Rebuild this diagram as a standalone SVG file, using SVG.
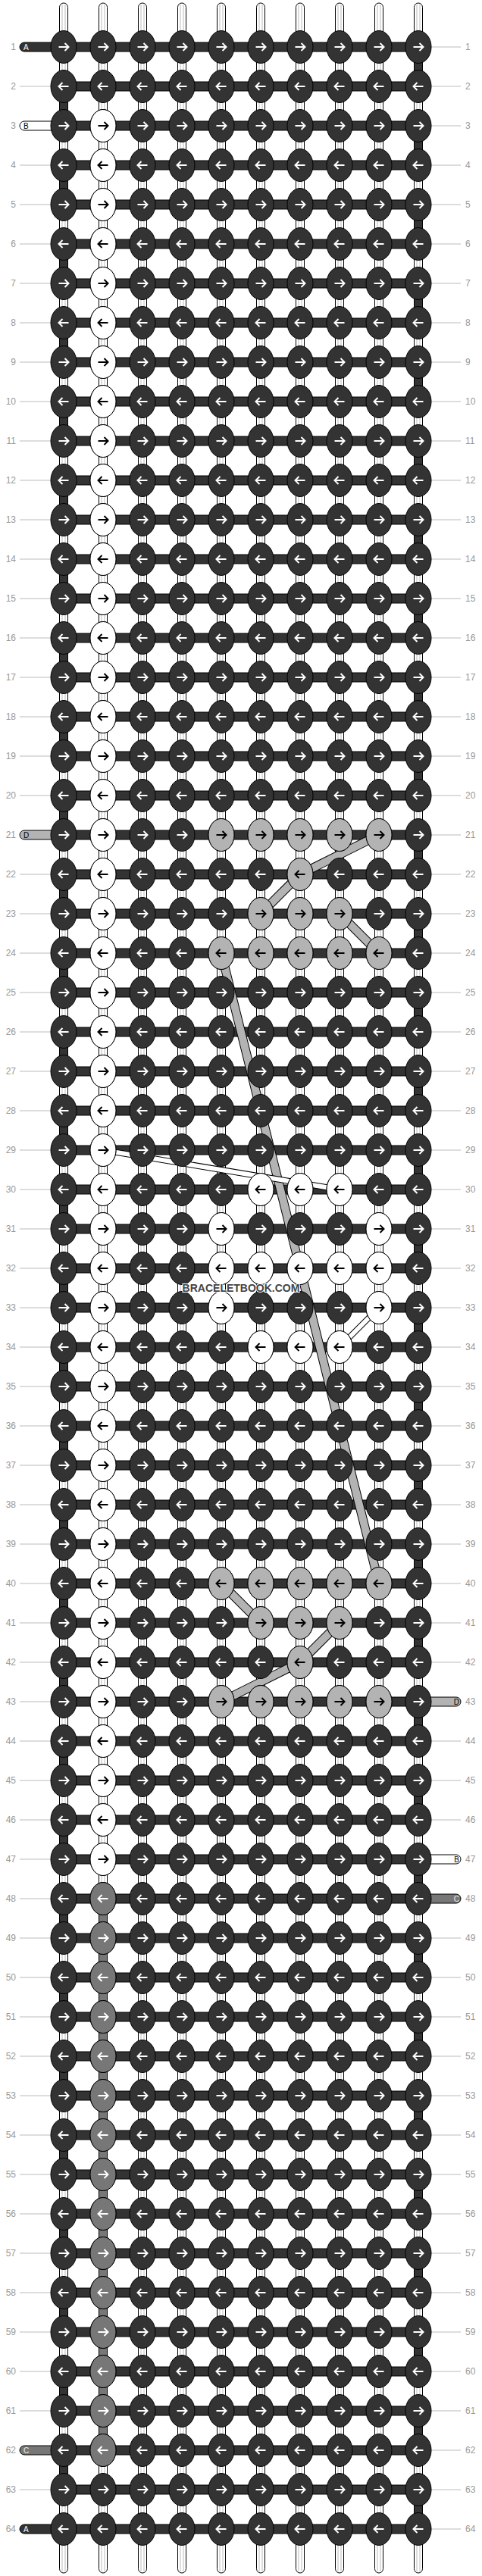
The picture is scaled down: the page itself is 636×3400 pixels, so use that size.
<svg xmlns="http://www.w3.org/2000/svg" width="636" height="3400" viewBox="0 0 636 3400">
<style>
.kd{fill:#333;stroke:#000}
.kw{fill:#fff;stroke:#000}
.kl{fill:#b3b3b3;stroke:#000}
.kg{fill:#777;stroke:#000}
.aw{fill:none;stroke:#fff;stroke-width:2}
.ab{fill:none;stroke:#000;stroke-width:2}
.td{fill:#333;stroke:#000}
.tw{fill:#fff;stroke:#000}
.tlg{fill:#b3b3b3;stroke:#000}
.tg{fill:#777;stroke:#000}
.tl{fill:none;stroke:#bbb}
.num{font-family:"Liberation Sans",Arial,sans-serif;font-size:12px;fill:#999}
.lab{font-family:"Liberation Sans",Arial,sans-serif;font-size:10px}
.cbk{fill:none;stroke:#000;stroke-width:12}
.cbl{fill:none;stroke:#b3b3b3;stroke-width:10}
.cwk{fill:none;stroke:#000;stroke-width:8}
.cww{fill:none;stroke:#fff;stroke-width:6}
</style>
<defs>
<ellipse id="e" rx="17" ry="21.5"/>
<path id="pR" d="M-6.5 0H6M1.5-5L6.5 0L1.5 5"/>
<path id="pL" d="M6.5 0H-6M-1.5-5L-6.5 0L-1.5 5"/>
<g id="e10"><use href="#e" x="84"/><use href="#e" x="136"/><use href="#e" x="188"/><use href="#e" x="240"/><use href="#e" x="292"/><use href="#e" x="344"/><use href="#e" x="396"/><use href="#e" x="448"/><use href="#e" x="500"/><use href="#e" x="552"/></g>
<g id="aR10"><use href="#pR" x="84"/><use href="#pR" x="136"/><use href="#pR" x="188"/><use href="#pR" x="240"/><use href="#pR" x="292"/><use href="#pR" x="344"/><use href="#pR" x="396"/><use href="#pR" x="448"/><use href="#pR" x="500"/><use href="#pR" x="552"/></g>
<g id="aL10"><use href="#pL" x="84"/><use href="#pL" x="136"/><use href="#pL" x="188"/><use href="#pL" x="240"/><use href="#pL" x="292"/><use href="#pL" x="344"/><use href="#pL" x="396"/><use href="#pL" x="448"/><use href="#pL" x="500"/><use href="#pL" x="552"/></g>
<g id="rO"><use href="#e10" class="kd"/><use href="#aR10" class="aw"/></g>
<g id="rE"><use href="#e10" class="kd"/><use href="#aL10" class="aw"/></g>
<g id="r2"><use href="#rO"/><use href="#rE" y="52"/></g>
<g id="wR"><use href="#e" class="kw"/><use href="#pR" class="ab"/></g>
<g id="wL"><use href="#e" class="kw"/><use href="#pL" class="ab"/></g>
<g id="lR"><use href="#e" class="kl"/><use href="#pR" class="ab"/></g>
<g id="lL"><use href="#e" class="kl"/><use href="#pL" class="ab"/></g>
<g id="gR"><use href="#e" class="kg"/><use href="#pR" class="aw"/></g>
<g id="gL"><use href="#e" class="kg"/><use href="#pL" class="aw"/></g>
<g id="w2"><use href="#wR"/><use href="#wL" y="52"/></g>
<g id="g2"><use href="#gL"/><use href="#gR" y="52"/></g>
<g id="vw"><rect x="-5.5" y="0" width="11" height="52" class="tw"/><path d="M-2 0V52M2 0V52" class="tl"/></g>
<rect id="vd" x="-5.5" y="0" width="11" height="52" class="td"/>
<g id="vmid"><use href="#vw" x="136"/><use href="#vw" x="188"/><use href="#vw" x="240"/><use href="#vw" x="292"/><use href="#vw" x="344"/><use href="#vw" x="396"/><use href="#vw" x="448"/><use href="#vw" x="500"/></g>
<g id="vA"><use href="#vmid"/><use href="#vw" x="84"/><use href="#vd" x="552"/></g>
<g id="vB"><use href="#vmid"/><use href="#vd" x="84"/><use href="#vw" x="552"/></g>
<rect id="hb" x="84" y="-6" width="468" height="12" class="td"/>
<path id="ln" d="M26 0H67M569 0H608" class="tl"/>
<g id="c2"><use href="#ln"/><use href="#ln" y="52"/><use href="#vA"/><use href="#vB" y="52"/><use href="#hb"/><use href="#hb" y="52"/></g>
<g id="tt"><path d="M-5.5 45V9.5a5.5 5.5 0 0 1 11 0V45Z" class="tw"/><path d="M-2 6V45M2 6V45" class="tl"/></g>
<g id="tops"><use href="#tt" x="84"/><use href="#tt" x="136"/><use href="#tt" x="188"/><use href="#tt" x="240"/><use href="#tt" x="292"/><use href="#tt" x="344"/><use href="#tt" x="396"/><use href="#tt" x="448"/><use href="#tt" x="500"/><use href="#tt" x="552"/></g>
<path id="tL" d="M0-6H-52a6 6 0 0 0 0 12H0Z"/>
<path id="tR" d="M0-6H50a6 6 0 0 1 0 12H0Z"/>
<path id="cl" d="M500 1102L396 1154L344 1206M448 1206L500 1258M292 1258L500 2090M292 2090L344 2142M448 2142L396 2194L292 2246"/>
<path id="cw" d="M136 1518L448 1570M500 1726L448 1778"/>
</defs>
<rect width="636" height="3400" fill="#fff"/>
<g id="strands">
<use href="#tops"/>
<use href="#tops" transform="matrix(1 0 0 -1 0 3400)"/>
<use href="#c2" y="62"/><use href="#c2" y="166"/><use href="#c2" y="270"/><use href="#c2" y="374"/><use href="#c2" y="478"/><use href="#c2" y="582"/><use href="#c2" y="686"/><use href="#c2" y="790"/><use href="#c2" y="894"/><use href="#c2" y="998"/><use href="#c2" y="1102"/><use href="#c2" y="1206"/><use href="#c2" y="1310"/><use href="#c2" y="1414"/><use href="#c2" y="1518"/><use href="#c2" y="1622"/><use href="#c2" y="1726"/><use href="#c2" y="1830"/><use href="#c2" y="1934"/><use href="#c2" y="2038"/><use href="#c2" y="2142"/><use href="#c2" y="2246"/><use href="#c2" y="2350"/><use href="#c2" y="2454"/><use href="#c2" y="2558"/><use href="#c2" y="2662"/><use href="#c2" y="2766"/><use href="#c2" y="2870"/><use href="#c2" y="2974"/><use href="#c2" y="3078"/><use href="#c2" y="3182"/>
<use href="#ln" y="3286"/><use href="#ln" y="3338"/><use href="#vA" y="3286"/><use href="#hb" y="3286"/><use href="#hb" y="3338"/>
<rect x="130.5" y="2506" width="11" height="728" class="tg"/>
</g>
<g id="ends">
<use href="#tL" x="84" y="62" class="td"/><text class="lab" x="31" y="65.5" fill="#fff">A</text>
<use href="#tL" x="84" y="166" class="tw"/><text class="lab" x="31" y="169.5" fill="#000">B</text>
<use href="#tL" x="84" y="1102" class="tlg"/><text class="lab" x="31" y="1105.5" fill="#000">D</text>
<use href="#tL" x="84" y="3234" class="tg"/><text class="lab" x="31" y="3237.5" fill="#eee">C</text>
<use href="#tL" x="84" y="3338" class="td"/><text class="lab" x="31" y="3341.5" fill="#fff">A</text>
<use href="#tR" x="552" y="2246" class="tlg"/><text class="lab" x="606" y="2249.5" fill="#000" text-anchor="end">D</text>
<use href="#tR" x="552" y="2454" class="tw"/><text class="lab" x="606" y="2457.5" fill="#000" text-anchor="end">B</text>
<use href="#tR" x="552" y="2506" class="tg"/><text class="lab" x="606" y="2509.5" fill="#eee" text-anchor="end">C</text>
</g>
<g id="carried">
<use href="#cl" class="cbk"/><use href="#cl" class="cbl"/>
<use href="#cw" class="cwk"/><use href="#cw" class="cww"/>
</g>
<g id="knots">
<use href="#r2" y="62"/><use href="#r2" y="166"/><use href="#r2" y="270"/><use href="#r2" y="374"/><use href="#r2" y="478"/><use href="#r2" y="582"/><use href="#r2" y="686"/><use href="#r2" y="790"/><use href="#r2" y="894"/><use href="#r2" y="998"/><use href="#r2" y="1102"/><use href="#r2" y="1206"/><use href="#r2" y="1310"/><use href="#r2" y="1414"/><use href="#r2" y="1518"/><use href="#r2" y="1622"/><use href="#r2" y="1726"/><use href="#r2" y="1830"/><use href="#r2" y="1934"/><use href="#r2" y="2038"/><use href="#r2" y="2142"/><use href="#r2" y="2246"/><use href="#r2" y="2350"/><use href="#r2" y="2454"/><use href="#r2" y="2558"/><use href="#r2" y="2662"/><use href="#r2" y="2766"/><use href="#r2" y="2870"/><use href="#r2" y="2974"/><use href="#r2" y="3078"/><use href="#r2" y="3182"/><use href="#r2" y="3286"/>
</g>
<g id="col2">
<use href="#w2" x="136" y="166"/><use href="#w2" x="136" y="270"/><use href="#w2" x="136" y="374"/><use href="#w2" x="136" y="478"/><use href="#w2" x="136" y="582"/><use href="#w2" x="136" y="686"/><use href="#w2" x="136" y="790"/><use href="#w2" x="136" y="894"/><use href="#w2" x="136" y="998"/><use href="#w2" x="136" y="1102"/><use href="#w2" x="136" y="1206"/><use href="#w2" x="136" y="1310"/><use href="#w2" x="136" y="1414"/><use href="#w2" x="136" y="1518"/><use href="#w2" x="136" y="1622"/><use href="#w2" x="136" y="1726"/><use href="#w2" x="136" y="1830"/><use href="#w2" x="136" y="1934"/><use href="#w2" x="136" y="2038"/><use href="#w2" x="136" y="2142"/><use href="#w2" x="136" y="2246"/><use href="#w2" x="136" y="2350"/><use href="#wR" x="136" y="2454"/>
<use href="#g2" x="136" y="2506"/><use href="#g2" x="136" y="2610"/><use href="#g2" x="136" y="2714"/><use href="#g2" x="136" y="2818"/><use href="#g2" x="136" y="2922"/><use href="#g2" x="136" y="3026"/><use href="#g2" x="136" y="3130"/><use href="#gL" x="136" y="3234"/>
</g>
<g id="diamond-top">
<use href="#lR" x="292" y="1102"/><use href="#lR" x="344" y="1102"/><use href="#lR" x="396" y="1102"/><use href="#lR" x="448" y="1102"/><use href="#lR" x="500" y="1102"/>
<use href="#lL" x="396" y="1154"/>
<use href="#lR" x="344" y="1206"/><use href="#lR" x="396" y="1206"/><use href="#lR" x="448" y="1206"/>
<use href="#lL" x="292" y="1258"/><use href="#lL" x="344" y="1258"/><use href="#lL" x="396" y="1258"/><use href="#lL" x="448" y="1258"/><use href="#lL" x="500" y="1258"/>
</g>
<g id="diamond-bottom">
<use href="#lL" x="292" y="2090"/><use href="#lL" x="344" y="2090"/><use href="#lL" x="396" y="2090"/><use href="#lL" x="448" y="2090"/><use href="#lL" x="500" y="2090"/>
<use href="#lR" x="344" y="2142"/><use href="#lR" x="396" y="2142"/><use href="#lR" x="448" y="2142"/>
<use href="#lL" x="396" y="2194"/>
<use href="#lR" x="292" y="2246"/><use href="#lR" x="344" y="2246"/><use href="#lR" x="396" y="2246"/><use href="#lR" x="448" y="2246"/><use href="#lR" x="500" y="2246"/>
</g>
<g id="ring">
<use href="#wL" x="344" y="1570"/><use href="#wL" x="396" y="1570"/><use href="#wL" x="448" y="1570"/>
<use href="#wR" x="292" y="1622"/><use href="#wR" x="500" y="1622"/>
<use href="#wL" x="292" y="1674"/><use href="#wL" x="344" y="1674"/><use href="#wL" x="396" y="1674"/><use href="#wL" x="448" y="1674"/><use href="#wL" x="500" y="1674"/>
<use href="#wR" x="292" y="1726"/><use href="#wR" x="500" y="1726"/>
<use href="#wL" x="344" y="1778"/><use href="#wL" x="396" y="1778"/><use href="#wL" x="448" y="1778"/>
</g>
<g id="numbers-left" class="num" text-anchor="end">
<text x="21" y="66">1</text><text x="21" y="118">2</text><text x="21" y="170">3</text><text x="21" y="222">4</text><text x="21" y="274">5</text><text x="21" y="326">6</text><text x="21" y="378">7</text><text x="21" y="430">8</text><text x="21" y="482">9</text><text x="21" y="534">10</text><text x="21" y="586">11</text><text x="21" y="638">12</text><text x="21" y="690">13</text><text x="21" y="742">14</text><text x="21" y="794">15</text><text x="21" y="846">16</text><text x="21" y="898">17</text><text x="21" y="950">18</text><text x="21" y="1002">19</text><text x="21" y="1054">20</text><text x="21" y="1106">21</text><text x="21" y="1158">22</text><text x="21" y="1210">23</text><text x="21" y="1262">24</text><text x="21" y="1314">25</text><text x="21" y="1366">26</text><text x="21" y="1418">27</text><text x="21" y="1470">28</text><text x="21" y="1522">29</text><text x="21" y="1574">30</text><text x="21" y="1626">31</text><text x="21" y="1678">32</text><text x="21" y="1730">33</text><text x="21" y="1782">34</text><text x="21" y="1834">35</text><text x="21" y="1886">36</text><text x="21" y="1938">37</text><text x="21" y="1990">38</text><text x="21" y="2042">39</text><text x="21" y="2094">40</text><text x="21" y="2146">41</text><text x="21" y="2198">42</text><text x="21" y="2250">43</text><text x="21" y="2302">44</text><text x="21" y="2354">45</text><text x="21" y="2406">46</text><text x="21" y="2458">47</text><text x="21" y="2510">48</text><text x="21" y="2562">49</text><text x="21" y="2614">50</text><text x="21" y="2666">51</text><text x="21" y="2718">52</text><text x="21" y="2770">53</text><text x="21" y="2822">54</text><text x="21" y="2874">55</text><text x="21" y="2926">56</text><text x="21" y="2978">57</text><text x="21" y="3030">58</text><text x="21" y="3082">59</text><text x="21" y="3134">60</text><text x="21" y="3186">61</text><text x="21" y="3238">62</text><text x="21" y="3290">63</text><text x="21" y="3342">64</text>
</g>
<g id="numbers-right" class="num">
<text x="614" y="66">1</text><text x="614" y="118">2</text><text x="614" y="170">3</text><text x="614" y="222">4</text><text x="614" y="274">5</text><text x="614" y="326">6</text><text x="614" y="378">7</text><text x="614" y="430">8</text><text x="614" y="482">9</text><text x="614" y="534">10</text><text x="614" y="586">11</text><text x="614" y="638">12</text><text x="614" y="690">13</text><text x="614" y="742">14</text><text x="614" y="794">15</text><text x="614" y="846">16</text><text x="614" y="898">17</text><text x="614" y="950">18</text><text x="614" y="1002">19</text><text x="614" y="1054">20</text><text x="614" y="1106">21</text><text x="614" y="1158">22</text><text x="614" y="1210">23</text><text x="614" y="1262">24</text><text x="614" y="1314">25</text><text x="614" y="1366">26</text><text x="614" y="1418">27</text><text x="614" y="1470">28</text><text x="614" y="1522">29</text><text x="614" y="1574">30</text><text x="614" y="1626">31</text><text x="614" y="1678">32</text><text x="614" y="1730">33</text><text x="614" y="1782">34</text><text x="614" y="1834">35</text><text x="614" y="1886">36</text><text x="614" y="1938">37</text><text x="614" y="1990">38</text><text x="614" y="2042">39</text><text x="614" y="2094">40</text><text x="614" y="2146">41</text><text x="614" y="2198">42</text><text x="614" y="2250">43</text><text x="614" y="2302">44</text><text x="614" y="2354">45</text><text x="614" y="2406">46</text><text x="614" y="2458">47</text><text x="614" y="2510">48</text><text x="614" y="2562">49</text><text x="614" y="2614">50</text><text x="614" y="2666">51</text><text x="614" y="2718">52</text><text x="614" y="2770">53</text><text x="614" y="2822">54</text><text x="614" y="2874">55</text><text x="614" y="2926">56</text><text x="614" y="2978">57</text><text x="614" y="3030">58</text><text x="614" y="3082">59</text><text x="614" y="3134">60</text><text x="614" y="3186">61</text><text x="614" y="3238">62</text><text x="614" y="3290">63</text><text x="614" y="3342">64</text>
</g>
<text x="318" y="1705" text-anchor="middle" font-family="'Liberation Sans',Arial,sans-serif" font-size="14" font-weight="bold" fill="#444" stroke="#fff" stroke-width="2" paint-order="stroke">BRACELETBOOK.COM</text>
</svg>
